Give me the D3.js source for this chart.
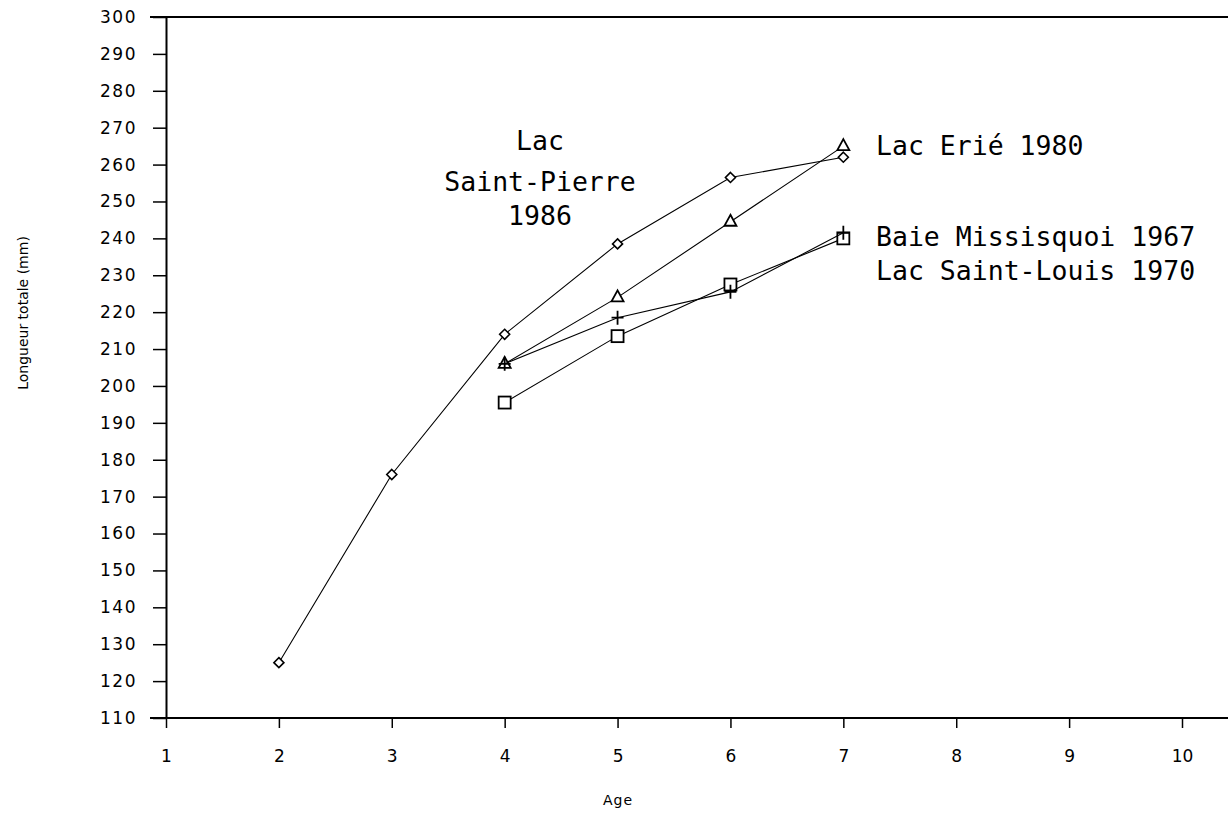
<!DOCTYPE html>
<html><head><meta charset="utf-8">
<script src="https://cdn.jsdelivr.net/npm/d3@7"></script>
<style>body{margin:0;background:#fff}svg{display:block}</style>
</head><body>
<script>
const ages = [2,3,4,5,6,7];
const stPierre = [125,176,214,238.5,256.5,262];
const erieAges = [4,5,6,7];
const erie = [206,224,244.5,265];
const missisquoi = [206,218.5,225.5,241.5];
const stLouis = [195.5,213.5,227.5,240];
const xTicks = [1,2,3,4,5,6,7,8,9,10];
const yTicks = d3.range(110,301,10);

const W=1228,H=817;
const svg=d3.select("body").append("svg").attr("width",W).attr("height",H);
const x=d3.scaleLinear().domain([1,10]).range([166,1182]);
const y=d3.scaleLinear().domain([110,300]).range([718,17]);
const tickFont="'DejaVu Sans', sans-serif";

svg.append("line").attr("x1",150).attr("x2",W).attr("y1",y(300)).attr("y2",y(300)).attr("stroke","#000").attr("stroke-width",2);
svg.append("line").attr("x1",150).attr("x2",W).attr("y1",y(110)).attr("y2",y(110)).attr("stroke","#000").attr("stroke-width",2.2);

const yAxis=svg.append("g").attr("transform",`translate(${x(1)},0)`)
  .call(d3.axisLeft(y).tickValues(yTicks).tickSize(13).tickPadding(16).tickSizeOuter(0));
yAxis.attr("font-size",null).attr("font-family",null);
yAxis.select(".domain").attr("stroke-width",2);
yAxis.selectAll("line").attr("stroke-width",1.5);
yAxis.selectAll("text").style("font-family",tickFont).style("font-size","17px").style("letter-spacing","1.5px").attr("fill","#000");

const xAxis=svg.append("g").attr("transform",`translate(0,${y(110)})`)
  .call(d3.axisBottom(x).tickValues(xTicks).tickSize(10).tickPadding(22).tickSizeOuter(0));
xAxis.attr("font-size",null).attr("font-family",null);
xAxis.select(".domain").remove();
xAxis.selectAll("line").attr("stroke-width",1.5);
xAxis.selectAll("text").style("font-family",tickFont).style("font-size","17px").attr("fill","#000");

svg.append("text").attr("x",618).attr("y",805).attr("text-anchor","middle")
  .style("font-family",tickFont).style("font-size","14px").style("letter-spacing","1px").text("Age");
svg.append("text").attr("transform","translate(28,313) rotate(-90)").attr("text-anchor","middle")
  .style("font-family",tickFont).style("font-size","14px").text("Longueur totale (mm)");

const line=d3.line().x(d=>x(d[0])).y(d=>y(d[1]));
function series(xs,vals,shape){
  const pts=xs.map((a,i)=>[a,vals[i]]);
  svg.append("path").attr("d",line(pts)).attr("fill","none").attr("stroke","#000").attr("stroke-width",1.1);
  const g=svg.append("g");
  pts.forEach(p=>{
    const cx=x(p[0]),cy=y(p[1]);
    if(shape==="diamond"){
      g.append("path").attr("d",`M${cx},${cy-5}L${cx+5},${cy}L${cx},${cy+5}L${cx-5},${cy}Z`).attr("fill","#fff").attr("stroke","#000").attr("stroke-width",1.6);
    } else if(shape==="triangle"){
      g.append("path").attr("d",`M${cx},${cy-7}L${cx+6},${cy+4}L${cx-6},${cy+4}Z`).attr("fill","#fff").attr("stroke","#000").attr("stroke-width",1.8);
    } else if(shape==="square"){
      g.append("rect").attr("x",cx-6).attr("y",cy-6).attr("width",12).attr("height",12).attr("fill","#fff").attr("stroke","#000").attr("stroke-width",1.8);
    } else if(shape==="plus"){
      g.append("path").attr("d",`M${cx-6},${cy}H${cx+6}M${cx},${cy-7}V${cy+7}`).attr("stroke","#000").attr("stroke-width",1.8);
    }
  });
}
series(ages,stPierre,"diamond");
series(erieAges,erie,"triangle");
series(erieAges,stLouis,"square");
series(erieAges,missisquoi,"plus");

const mono="'DejaVu Sans Mono', monospace";
const lbl=(t,xx,yy,anchor)=>svg.append("text").attr("x",xx).attr("y",yy).attr("text-anchor",anchor||"start")
  .style("font-family",mono).style("font-size","26.5px").attr("fill","#000").text(t);
lbl("Lac",540,150,"middle");
lbl("Saint-Pierre",540,191,"middle");
lbl("1986",540,225,"middle");
lbl("Lac Erié 1980",876,155);
lbl("Baie Missisquoi 1967",876,246);
lbl("Lac Saint-Louis 1970",876,280);
</script>
</body></html>
